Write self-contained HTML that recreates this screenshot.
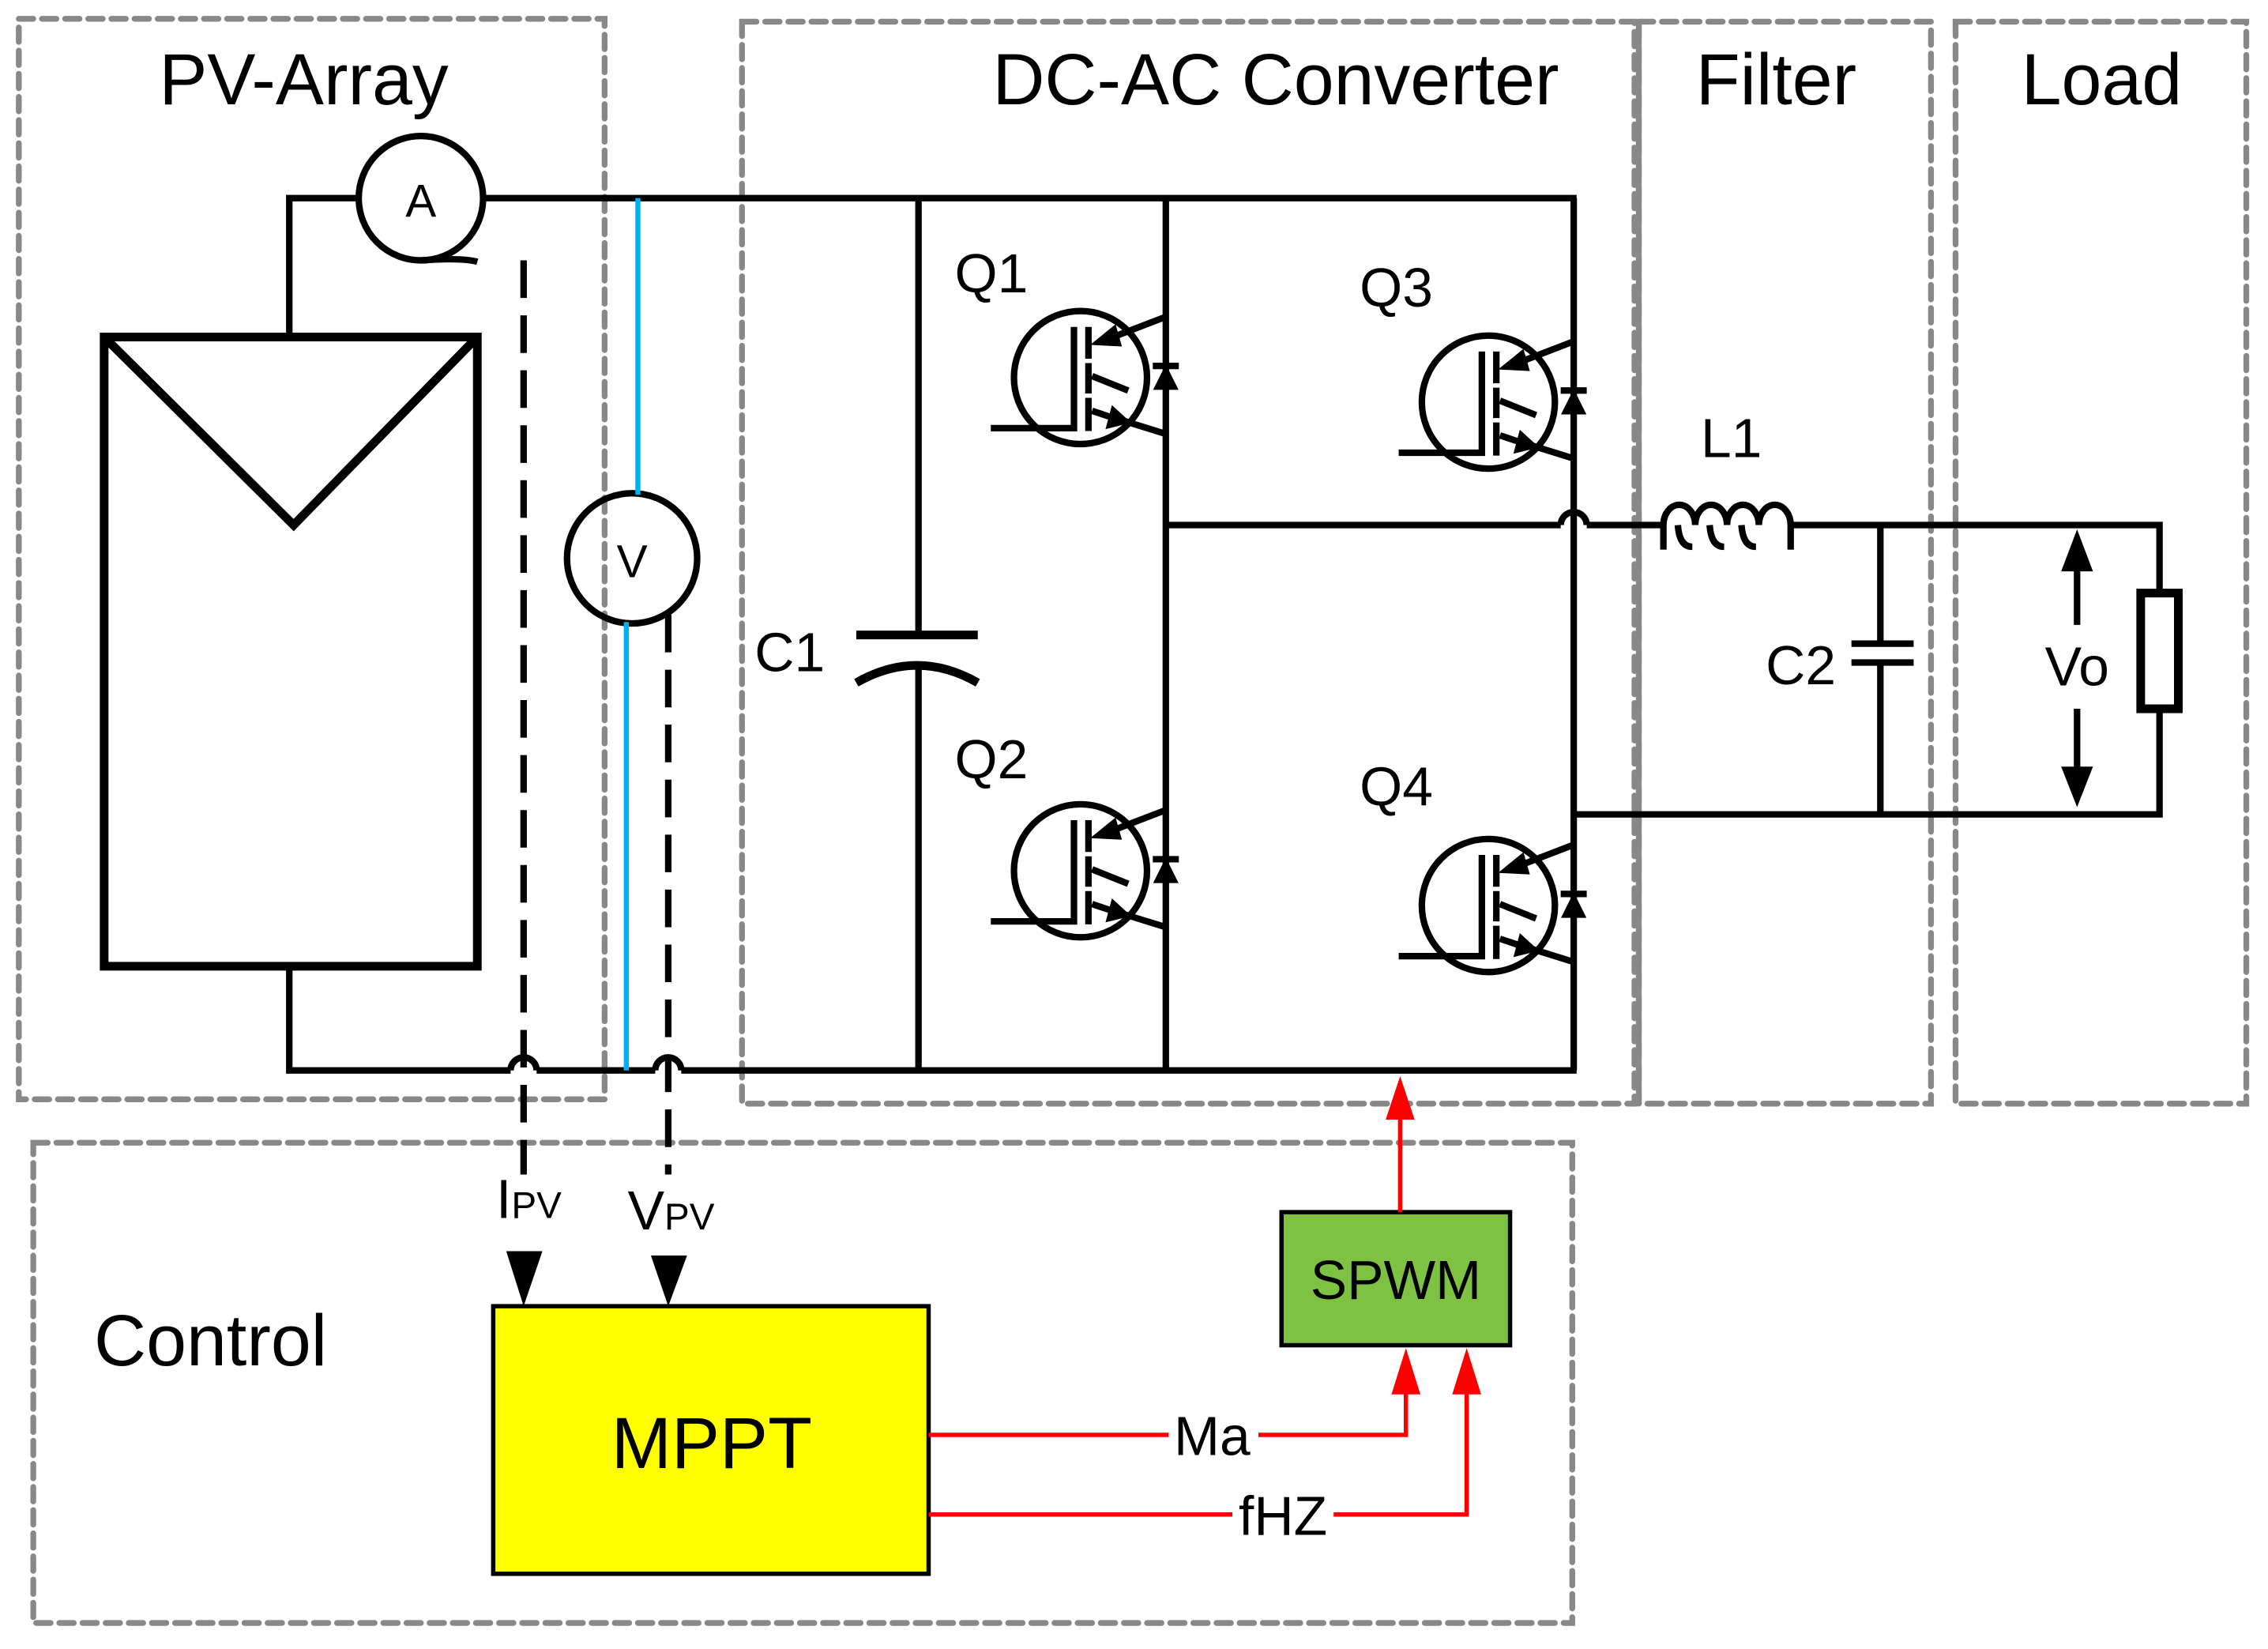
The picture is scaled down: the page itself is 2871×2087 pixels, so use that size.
<!DOCTYPE html>
<html><head><meta charset="utf-8"><style>
html,body{margin:0;padding:0;background:#fff;}
svg{display:block;}
text{font-family:"Liberation Sans",sans-serif;fill:#000;}
</style></head><body>
<svg width="2871" height="2087" viewBox="0 0 1568 1140" preserveAspectRatio="none" xmlns="http://www.w3.org/2000/svg">
<defs>
<g id="tr" fill="none" stroke="#000" stroke-width="4.5">
  <circle cx="0" cy="0" r="46"/>
  <polyline points="-62,35 -4.5,35 -4.5,-35"/>
  <line x1="5.5" y1="-35" x2="5.5" y2="-13"/>
  <line x1="5.5" y1="-10" x2="5.5" y2="11"/>
  <line x1="5.5" y1="14" x2="5.5" y2="37"/>
  <line x1="8" y1="-1" x2="33" y2="9"/>
  <line x1="20" y1="-27" x2="59" y2="-42"/>
  <polygon points="8,-23 24,-36 28,-22" fill="#000" stroke-width="1"/>
  <line x1="8" y1="23" x2="20" y2="27"/>
  <line x1="30" y1="30" x2="59" y2="39"/>
  <polygon points="34,31 18,35 22,20" fill="#000" stroke-width="1"/>
  <polygon points="51,8 67,8 59,-8" fill="#000" stroke-width="1"/>
  <line x1="50" y1="-8" x2="68" y2="-8"/>
</g>
</defs>
<!-- dashed boxes -->
<g fill="none" stroke="#888" stroke-width="4" stroke-dasharray="10,6" stroke-linecap="round">
  <rect x="13" y="13" width="405" height="747"/>
  <rect x="513" y="15" width="617" height="748"/>
  <rect x="1133" y="15" width="202" height="748"/>
  <rect x="1352" y="15" width="201" height="748"/>
  <rect x="23" y="790" width="1064" height="332"/>
</g>
<line x1="1133" y1="15" x2="1133" y2="763" stroke="#888" stroke-width="4"/>
<!-- titles -->
<text x="210" y="72" font-size="50" text-anchor="middle">PV-Array</text>
<text x="882" y="72" font-size="50" text-anchor="middle">DC-AC Converter</text>
<text x="1228" y="72" font-size="50" text-anchor="middle">Filter</text>
<text x="1453" y="72" font-size="50" text-anchor="middle">Load</text>
<text x="65" y="944" font-size="50">Control</text>
<!-- wires -->
<g fill="none" stroke="#000" stroke-width="4.5">
  <polyline points="248,137 200,137 200,233"/>
  <line x1="335" y1="137" x2="1090" y2="137"/>
  <circle cx="291" cy="137" r="43"/>
  <path d="M291,180 Q320,178 330,181"/>
  <rect x="72" y="233" width="258" height="435" stroke-width="6"/>
  <polyline points="72,233 203,363 330,233" stroke-width="6"/>
  <polyline points="200,668 200,740 353,740"/>
  <path d="M353,740 A9,9 0 0 1 371,740"/>
  <line x1="371" y1="740" x2="453" y2="740"/>
  <path d="M453,740 A9,9 0 0 1 471,740"/>
  <line x1="471" y1="740" x2="1090" y2="740"/>
  <circle cx="437" cy="386" r="45"/>
  <!-- C1 -->
  <line x1="635" y1="137" x2="635" y2="437"/>
  <line x1="635" y1="462" x2="635" y2="740"/>
  <line x1="592" y1="439" x2="676" y2="439" stroke-width="6"/>
  <path d="M592,472 Q634,448 676,472" stroke-width="6"/>
  <!-- legs -->
  <line x1="806" y1="137" x2="806" y2="740"/>
  <line x1="1088" y1="137" x2="1088" y2="740"/>
  <line x1="806" y1="363" x2="1079" y2="363"/>
  <path d="M1079,363 A9,9 0 0 1 1097,363"/>
  <line x1="1097" y1="363" x2="1150" y2="363"/>
  <path d="M1150,380 L1150,363 A11,14 0 0 1 1172,363 A11,14 0 0 1 1194,363 A11,14 0 0 1 1216,363 A11,14 0 0 1 1238,363 L1238,380"/>
  <path d="M1160,363 Q1161,378 1170,378 M1182,363 Q1183,378 1192,378 M1204,363 Q1205,378 1214,378"/>
  <polyline points="1238,363 1493,363 1493,410"/>
  <rect x="1480" y="410" width="26" height="80" stroke-width="6"/>
  <polyline points="1493,490 1493,563 1088,563"/>
  <line x1="1300" y1="363" x2="1300" y2="445"/>
  <line x1="1300" y1="458" x2="1300" y2="563"/>
  <line x1="1280" y1="445" x2="1323" y2="445"/>
  <line x1="1280" y1="458" x2="1323" y2="458"/>
  <line x1="1436" y1="390" x2="1436" y2="432"/>
  <line x1="1436" y1="490" x2="1436" y2="535"/>
</g>
<polygon points="1425,395 1447,395 1436,366" fill="#000"/>
<polygon points="1425,530 1447,530 1436,558" fill="#000"/>
<!-- blue -->
<line x1="441" y1="137" x2="441" y2="342" stroke="#00b0f0" stroke-width="3.5"/>
<line x1="433" y1="430" x2="433" y2="740" stroke="#00b0f0" stroke-width="3.5"/>
<!-- black dashed -->
<g stroke="#000" stroke-width="4.5" stroke-dasharray="26,12" fill="none">
  <line x1="362" y1="180" x2="362" y2="812"/>
  <line x1="462" y1="425" x2="462" y2="812"/>
</g>
<!-- transistors -->
<use href="#tr" x="747" y="261"/>
<use href="#tr" x="747" y="602"/>
<use href="#tr" x="1029" y="278"/>
<use href="#tr" x="1029" y="626"/>
<!-- labels -->
<g font-size="38">
<text x="291" y="150" text-anchor="middle" font-size="32">A</text>
<text x="437" y="399" text-anchor="middle" font-size="32">V</text>
<text x="660" y="202">Q1</text>
<text x="660" y="538">Q2</text>
<text x="940" y="212">Q3</text>
<text x="940" y="557">Q4</text>
<text x="546" y="464" text-anchor="middle">C1</text>
<text x="1197" y="316" text-anchor="middle">L1</text>
<text x="1245" y="473" text-anchor="middle">C2</text>
<text x="1436" y="474" text-anchor="middle">Vo</text>
<text x="343" y="842">I<tspan font-size="26">PV</tspan></text>
<text x="434" y="850">V<tspan font-size="26">PV</tspan></text>
</g>
<polygon points="350,865 375,865 362,903" fill="#000"/>
<polygon points="450,868 475,868 462,903" fill="#000"/>
<!-- boxes -->
<rect x="341" y="903" width="301" height="185" fill="#ffff00" stroke="#000" stroke-width="3"/>
<text x="492" y="1015" font-size="50" text-anchor="middle">MPPT</text>
<rect x="886" y="838" width="158" height="92" fill="#7dc242" stroke="#000" stroke-width="3"/>
<text x="965" y="898" font-size="38" text-anchor="middle">SPWM</text>
<!-- red -->
<g stroke="#ff0000" stroke-width="3" fill="none">
  <line x1="968" y1="838" x2="968" y2="770"/>
  <polyline points="642,992 972,992 972,960"/>
  <polyline points="642,1047 1014,1047 1014,960"/>
</g>
<polygon points="958,774 978,774 968,744" fill="#ff0000"/>
<polygon points="962,964 982,964 972,932" fill="#ff0000"/>
<polygon points="1004,964 1024,964 1014,932" fill="#ff0000"/>
<rect x="808" y="972" width="62" height="40" fill="#fff"/>
<rect x="852" y="1027" width="70" height="40" fill="#fff"/>
<text x="838" y="1006" font-size="38" text-anchor="middle">Ma</text>
<text x="887" y="1061" font-size="38" text-anchor="middle">fHZ</text>
</svg>
</body></html>
